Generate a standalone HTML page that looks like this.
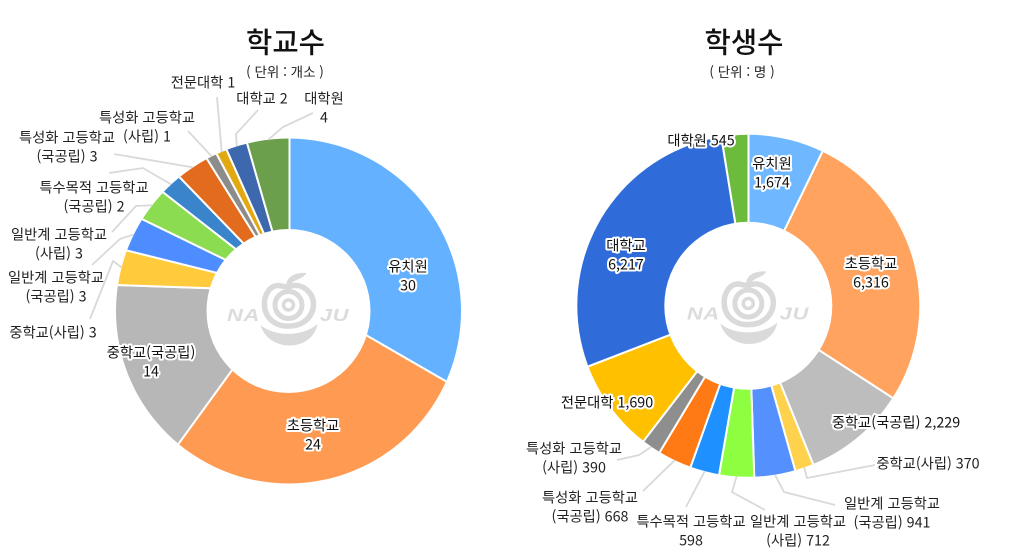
<!DOCTYPE html>
<html lang="ko">
<head>
<meta charset="utf-8">
<title>학교수 학생수</title>
<style>
html,body{margin:0;padding:0;background:#fff;width:1026px;height:560px;overflow:hidden}
svg{display:block}
text{font-family:"Noto Sans CJK KR","Liberation Sans",sans-serif;fill:#222;text-anchor:middle;dominant-baseline:central}
.lbl{font-size:14.3px}
.halo{paint-order:stroke;stroke:#fff;stroke-width:4px;stroke-linejoin:round;fill:#111}
.title{font-size:28.6px;font-weight:500;fill:#111}
.sub{font-size:13.5px;fill:#222}
.logo-text{font-family:"Liberation Sans",sans-serif;font-weight:700;font-style:italic;font-size:18px;letter-spacing:.5px}
</style>
</head>
<body>
<svg id="chart" width="1026" height="560" viewBox="0 0 1026 560" xmlns="http://www.w3.org/2000/svg">
  <defs>
    <clipPath id="clip-school"><circle cx="288.5" cy="311" r="172.5"/></clipPath>
    <clipPath id="clip-student"><circle cx="748.3" cy="305.8" r="171"/></clipPath>
  </defs>
  <text class="title" x="285.5" y="41">학교수</text>
  <text class="sub" x="285" y="71">( 단위 : 개소 )</text>
  <text class="title" x="744" y="41">학생수</text>
  <text class="sub" x="742" y="71">( 단위 : 명 )</text>
</svg>
<script>
// ---- data: school counts ----
const schoolCategories = ['유치원','초등학교','중학교(국공립)','중학교(사립)','일반계 고등학교 (국공립)','일반계 고등학교 (사립)','특수목적 고등학교 (국공립)','특성화 고등학교 (국공립)','특성화 고등학교 (사립)','전문대학','대학교','대학원'];
const schoolValues = [30,24,14,3,3,3,2,3,1,1,2,4];
const schoolPrinted = ['30','24','14','3','3','3','2','3','1','1','2','4'];
const schoolColors = ['#63b1ff','#ff9a52','#b7b7b7','#ffcb3d','#4d8dff','#8bdc50','#3a84cc','#e26b1d','#8c8c8c','#e0a912','#3d68ae','#6b9f4b'];

// ---- data: student counts ----
const studentCategories = ['유치원','초등학교','중학교(국공립)','중학교(사립)','일반계 고등학교 (국공립)','일반계 고등학교 (사립)','특수목적 고등학교','특성화 고등학교 (국공립)','특성화 고등학교 (사립)','전문대학','대학교','대학원'];
const studentPrinted = ['1,674','6,316','2,229','370','941','712','598','668','390','1,690','6,217','545'];
const studentSliceSizes = [1602,6025,2174,391,857,727,609,708,404,1944,6323,571];
const studentColors = ['#6fb8ff','#ffa35f','#bdbdbd','#ffd24d','#5590ff','#8eff40','#1e90ff','#ff7a14','#8e8e8e','#ffc000','#2f6cd9','#6cbb3c'];

// ---- label lines, as they wrap in the picture ({v} is the printed value) ----
const schoolLines = [['유치원','{v}'],['초등학교','{v}'],['중학교(국공립)','{v}'],['중학교(사립) {v}'],['일반계 고등학교','(국공립) {v}'],['일반계 고등학교','(사립) {v}'],['특수목적 고등학교','(국공립) {v}'],['특성화 고등학교','(국공립) {v}'],['특성화 고등학교','(사립) {v}'],['전문대학 {v}'],['대학교 {v}'],['대학원','{v}']];
const studentLines = [['유치원','{v}'],['초등학교','{v}'],['중학교(국공립) {v}'],['중학교(사립) {v}'],['일반계 고등학교','(국공립) {v}'],['일반계 고등학교','(사립) {v}'],['특수목적 고등학교','{v}'],['특성화 고등학교','(국공립) {v}'],['특성화 고등학교','(사립) {v}'],['전문대학 {v}'],['대학교','{v}'],['대학원 {v}']];

// ---- layout (not data) ----
const schoolLayout = {
  cx:288.5, cy:311, outer:172.5, inner:82, apexX:289.5, apexY:291, logoY:307, clip:'clip-school',
  labels:[[408,266,1],[313,425,1],[151,352,1],[53,332,0],[56,277,0],[59,234,0],[94,187,0],[67,137,0],[147,117,0],[203,82,0],[262,98,0],[324,98,0]],
  leaders:[null,null,null,[[90,319],[113,261]],[[92,265],[120,239]],[[112,232],[136,206]],[[109,173],[143,168]],[[114,154]],[[188,131]],[[217,97]],[[258,110],[236,134]],[[313,113],[283,127]]]
};
const studentLayout = {
  cx:748.3, cy:305.8, outer:171, inner:84, apexX:748.5, apexY:304.5, logoY:305.5, clip:'clip-student',
  labels:[[772,163,1],[871,263,1],[896,422,1],[928,463,0],[892,503,0],[798,521,0],[691,521,0],[590,497,0],[574,448,0],[607,402,1],[626,245,1],[701,140,1]],
  leaders:[null,null,null,[[875,465],[807,478]],[[835,505],[784,492]],[[765,510],[732,492]],[[686,507]],[[643,491]],[[617,460],[639,455]],null,null,null]
};
const LINE_HEIGHT = 19;
const WEDGE_REACH = 200;
const NS = 'http://www.w3.org/2000/svg';
const svg = document.getElementById('chart');

function angleScale(sizes){
  const total = sizes.reduce((a,b)=>a+b,0);
  return v => v / total * Math.PI * 2;
}
function fromApex(layout, r, a){
  return [layout.apexX + r*Math.sin(a), layout.apexY - r*Math.cos(a)];
}
function wedgePath(layout, a0, a1){
  const large = a1-a0 > Math.PI ? 1 : 0;
  const p0 = fromApex(layout, WEDGE_REACH, a0), p1 = fromApex(layout, WEDGE_REACH, a1);
  return `M${layout.apexX},${layout.apexY} L${p0} A${WEDGE_REACH},${WEDGE_REACH} 0 ${large} 1 ${p1} Z`;
}
// Where a ray from the apex at angle a meets the outer circle.
function rimPoint(layout, a){
  const dx = Math.sin(a), dy = -Math.cos(a);
  const fx = layout.apexX - layout.cx, fy = layout.apexY - layout.cy;
  const b = fx*dx + fy*dy;
  const c = fx*fx + fy*fy - layout.outer*layout.outer;
  const t = -b + Math.sqrt(b*b - c);
  return fromApex(layout, t, a);
}
function drawLogo(layout){
  const g = document.createElementNS(NS,'g');
  
  
  g.setAttribute('transform',`translate(${layout.cx},${layout.logoY})`);
  g.innerHTML =
    '<g fill="none" stroke="#dadada" stroke-linecap="round">' +
    '<path stroke-width="5.5" d="M-7,-21 C-18,-24 -25,-12 -24,-1 C-23,12 -12,20 1,19 C14,19 25,10 25,-3 C25,-14 14,-24 3,-21 C0,-20 -3,-20 -7,-21 Z"/>' +
    '<circle cy="-2" r="13.5" stroke-width="5"/>' +
    '<circle cy="-2" r="5" stroke-width="3.5"/>' +
    '</g>' +
    '<path fill="#dadada" d="M-2,-21 C-3,-30 7,-35 18,-34 C14,-27 6,-29 1,-21 Z"/>' +
    '<path fill="#dadada" d="M-28,18 C-14,30 14,30 29,17 C24,45 -20,46 -28,18 Z"/>' +
    '<text class="logo-text" transform="translate(-45,8.5) scale(1.22,1)" style="fill:#dcdcdc">NA</text>' +
    '<text class="logo-text" transform="translate(46,8.5) scale(1.22,1)" style="fill:#dcdcdc">JU</text>';
  svg.appendChild(g);
}
function drawDonut(prefix, categories, printed, sizes, colors, lines, layout){
  const toAngle = angleScale(sizes);
  let acc = 0;
  const group = document.createElementNS(NS,'g');
  
  
  group.setAttribute('clip-path', 'url(#' + layout.clip + ')');
  svg.appendChild(group);
  const mids = [];
  sizes.forEach((v,i)=>{
    const a0 = toAngle(acc), a1 = toAngle(acc+v);
    acc += v;
    mids.push((a0+a1)/2);
    const p = document.createElementNS(NS,'path');
    p.setAttribute('d', wedgePath(layout,a0,a1));
    p.setAttribute('fill', colors[i]);
    p.setAttribute('stroke','#fff');
    p.setAttribute('stroke-width','2');
    
    
    p.setAttribute('aria-label', categories[i] + ' ' + printed[i]);
    group.appendChild(p);
  });
  const hole = document.createElementNS(NS,'circle');
  hole.setAttribute('cx', layout.cx);
  hole.setAttribute('cy', layout.cy);
  hole.setAttribute('r', layout.inner);
  hole.setAttribute('fill','#fff');
  
  
  group.appendChild(hole);
  layout.leaders.forEach((pts,i)=>{
    if(!pts) return;
    const end = rimPoint(layout, mids[i]);
    const l = document.createElementNS(NS,'polyline');
    l.setAttribute('points', pts.concat([end]).map(p=>p.join(',')).join(' '));
    l.setAttribute('fill','none');
    l.setAttribute('stroke','#d9d9d9');
    l.setAttribute('stroke-width','1.8');
    
    
    svg.appendChild(l);
  });
  drawLogo(layout);
  lines.forEach((rows,i)=>{
    const [x,y,halo] = layout.labels[i];
    rows.forEach((row,k)=>{
      const t = document.createElementNS(NS,'text');
      t.setAttribute('x', x);
      t.setAttribute('y', y + k*LINE_HEIGHT);
      t.setAttribute('class', halo ? 'lbl halo' : 'lbl');
      
      
      t.textContent = row.replace('{v}', printed[i]);
      svg.appendChild(t);
    });
  });
}
drawDonut('school', schoolCategories, schoolPrinted, schoolValues, schoolColors, schoolLines, schoolLayout);
drawDonut('student', studentCategories, studentPrinted, studentSliceSizes, studentColors, studentLines, studentLayout);
</script>
</body>
</html>
